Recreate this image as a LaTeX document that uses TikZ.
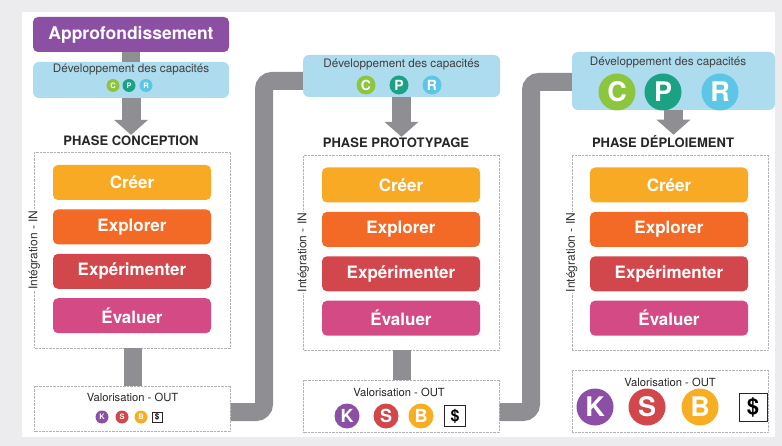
\documentclass[tikz,border=0pt]{standalone}
\usepackage{fontspec}
\setmainfont{TeX Gyre Heros}
\usetikzlibrary{positioning,arrows.meta,calc}
\definecolor{violetA}{HTML}{8B4FA3}
\definecolor{bleuD}{HTML}{AEDCEF}
\definecolor{orangeC}{HTML}{F8AA25}
\definecolor{orangeE}{HTML}{F26A25}
\definecolor{rougeX}{HTML}{D2474C}
\definecolor{roseV}{HTML}{D44A84}
\definecolor{grisL}{HTML}{8F8E93}
\definecolor{vertC}{HTML}{8CC63F}
\definecolor{tealP}{HTML}{1BA184}
\definecolor{cielR}{HTML}{5DC5E6}
\definecolor{jauneB}{HTML}{F7AE22}
\definecolor{fond}{HTML}{ECECEE}
\tikzset{
	approbox/.style={rectangle, rounded corners=5pt, fill=violetA, text=white, font=\bfseries\fontsize{17.5}{20}\selectfont, minimum width=196pt, minimum height=35pt},
	devbox/.style={rectangle, rounded corners=6pt, fill=bleuD},
	devtext/.style={text=black!75, font=\fontsize{11.7}{14}\selectfont, inner sep=0pt},
	phasetitle/.style={font=\bfseries\fontsize{13}{15}\selectfont, text=black!85, inner sep=1pt},
	inbox/.style={rectangle, draw=black!30, densely dotted, minimum width=196pt},
	actbox/.style={rectangle, rounded corners=5pt, fill=#1, text=white, font=\bfseries\fontsize{17}{19}\selectfont, minimum width=158pt, minimum height=35pt},
	intext/.style={rotate=90, fill=white, font=\fontsize{12}{14}\selectfont, text=black!80, inner sep=1pt},
	valtext/.style={font=\fontsize{11.2}{13}\selectfont, text=black!85, inner sep=0pt},
	pastille/.style={circle, fill=#1, text=white, inner sep=0pt},
	petit/.style={minimum size=13pt, font=\bfseries\fontsize{7.5}{8}\selectfont},
	moyen/.style={minimum size=19pt, font=\bfseries\fontsize{14}{16}\selectfont},
	moyenV/.style={minimum size=25pt, font=\bfseries\fontsize{18}{20}\selectfont},
	grand/.style={minimum size=37pt, font=\bfseries\fontsize{27}{30}\selectfont},
	dollar/.style={rectangle, draw=black!85, fill=white, inner sep=0pt},
	link/.style={grisL, line width=18pt, rounded corners=8pt},
	bigarrow/.style={grisL, line width=19pt, -{Triangle[width=33pt,length=15pt]}},
}
\begin{document}
\begin{tikzpicture}[x=1pt,y=-1pt,node distance=9pt]
		\fill[fond] (0,0) rectangle (782,446);
		\fill[white] (22,12) rectangle (775,437);
		\useasboundingbox (0,0) rectangle (782,446);
		% colonne conception
		\node[approbox] (appro) at (131,34.5) {Approfondissement};
		\node[devbox, minimum width=196pt, minimum height=36pt] (dev1) at (131,80) {};
		\node[devtext] (devt1) at (131,70) {Développement des capacités};
		\node[pastille=vertC, petit] (c1) at (113,85.5) {C};
		\node[pastille=tealP, petit] (p1) at (129,85.5) {P};
		\node[pastille=cielR, petit] (r1) at (146,85.5) {R};
		\node[phasetitle] (ph1) at (131,141) {PHASE CONCEPTION};
		\node[inbox, minimum height=196pt] (in1) at (132.5,250) {};
		\node[actbox=orangeC] (cr1) at (132,182.5) {Créer};
		\node[actbox=orangeE, below=of cr1] (ex1) {Explorer};
		\node[actbox=rougeX, below=of ex1] (xp1) {Expérimenter};
		\node[actbox=roseV, below=of xp1] (ev1) {Évaluer};
		\node[intext] (int1) at (in1.west) {Intégration - IN};
		\node[inbox, minimum height=45pt] (val1) at (132.5,408.5) {};
		\node[valtext] (valt1) at (132.5,397) {Valorisation - OUT};
		\node[pastille=violetA, petit] (k1) at (102,417) {K};
		\node[pastille=rougeX, petit] (s1) at (122,417) {S};
		\node[pastille=jauneB, petit] (b1) at (141,417) {B};
		\node[dollar, minimum size=10pt, font=\bfseries\fontsize{8}{9}\selectfont] (d1) at (157,417) {\$};
		\draw[link] (appro.south) -- (dev1.north);
		\draw[bigarrow] (dev1.south) -- (dev1.south |- ph1.north);
		\draw[link] (in1.south) -- (val1.north);
		% colonne prototypage
		\node[devbox, minimum width=197pt, minimum height=42pt] (dev2) at (401.5,76) {};
		\node[devtext] (devt2) at (401.5,65) {Développement des capacités};
		\node[pastille=vertC, moyen] (c2) at (366,85) {C};
		\node[pastille=tealP, moyen] (p2) at (399,85) {P};
		\node[pastille=cielR, moyen] (r2) at (432,85) {R};
		\node[phasetitle] (ph2) at (396,143) {PHASE PROTOTYPAGE};
		\node[inbox, minimum height=195pt] (in2) at (401.5,252.5) {};
		\node[actbox=orangeC] (cr2) at (401,185) {Créer};
		\node[actbox=orangeE, below=of cr2] (ex2) {Explorer};
		\node[actbox=rougeX, below=of ex2] (xp2) {Expérimenter};
		\node[actbox=roseV, below=of xp2] (ev2) {Évaluer};
		\node[intext] (int2) at (in2.west) {Intégration - IN};
		\node[inbox, minimum height=52pt] (val2) at (401.5,406) {};
		\node[valtext] (valt2) at (399,392) {Valorisation - OUT};
		\node[pastille=violetA, moyenV] (k2) at (347,416) {K};
		\node[pastille=rougeX, moyenV] (s2) at (386,416) {S};
		\node[pastille=jauneB, moyenV] (b2) at (421,416) {B};
		\node[dollar, minimum size=21pt, font=\bfseries\fontsize{16}{18}\selectfont] (d2) at (455,416) {\$};
		\draw[bigarrow] (dev2.south) -- (dev2.south |- ph2.north);
		\draw[link] (in2.south) -- (val2.north);
		% colonne deploiement
		\node[devbox, minimum width=203pt, minimum height=58pt] (dev3) at (673.5,81) {};
		\node[devtext] (devt3) at (668,63) {Développement des capacités};
		\node[pastille=vertC, grand] (c3) at (617,92) {C};
		\node[pastille=tealP, grand] (p3) at (663,92) {P};
		\node[pastille=cielR, grand] (r3) at (720,92) {R};
		\node[phasetitle] (ph3) at (663,142) {PHASE DÉPLOIEMENT};
		\node[inbox, minimum height=195pt] (in3) at (670,252.5) {};
		\node[actbox=orangeC] (cr3) at (669,185) {Créer};
		\node[actbox=orangeE, below=of cr3] (ex3) {Explorer};
		\node[actbox=rougeX, below=of ex3] (xp3) {Expérimenter};
		\node[actbox=roseV, below=of xp3] (ev3) {Évaluer};
		\node[intext] (int3) at (in3.west) {Intégration - IN};
		\node[inbox, minimum height=62pt] (val3) at (670,401) {};
		\node[valtext] (valt3) at (670,382) {Valorisation - OUT};
		\node[pastille=violetA, grand] (k3) at (595,407) {K};
		\node[pastille=rougeX, grand] (s3) at (647,407) {S};
		\node[pastille=jauneB, grand] (b3) at (700,407) {B};
		\node[dollar, minimum size=28pt, font=\bfseries\fontsize{22}{24}\selectfont] (d3) at (753,407) {\$};
		\draw[bigarrow] (dev3.south) -- (dev3.south |- ph3.north);
		% liaisons entre phases
		\coordinate (v1) at ([yshift=-3.5pt]val1.east);
		\coordinate (w2) at ([yshift=-5pt]dev2.west);
		\coordinate (x1) at (264,0);
		\draw[link] (v1) -| (x1 |- w2) -- (w2);
		\coordinate (v2) at ([yshift=-6pt]val2.east);
		\coordinate (w3) at ([yshift=-1pt]dev3.west);
		\coordinate (x2) at (531,0);
		\draw[link] (v2) -| (x2 |- w3) -- (w3);
	\end{tikzpicture}
\end{document}
